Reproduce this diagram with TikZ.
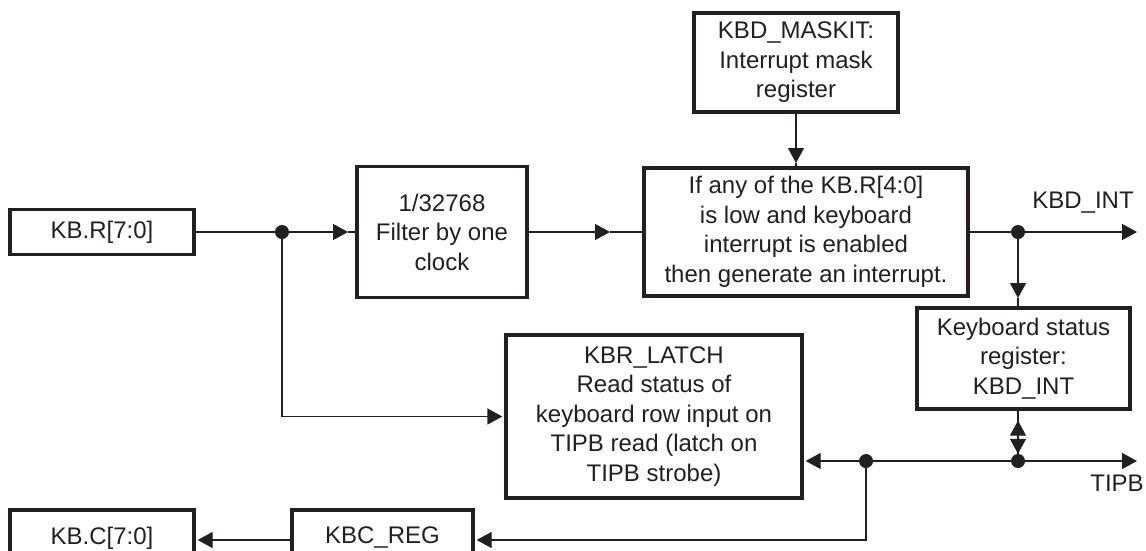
\documentclass[tikz,border=0pt]{standalone}
\usepackage{fontspec}
\setmainfont{Liberation Sans}
\usetikzlibrary{arrows.meta}
\definecolor{ink}{RGB}{35,31,32}
\begin{document}
\begin{tikzpicture}[x=1pt,y=-1pt,
  font=\fontsize{24}{29.5}\selectfont,
  box/.style={draw=ink, line width=3.3pt, align=center, inner sep=0pt, text=ink},
  conn/.style={draw=ink, line width=1.3pt},
  tip/.style={conn, -{Triangle[length=15pt,width=16pt]}},
  dot/.style={circle, fill=ink, inner sep=0pt, minimum size=14pt},
  lbl/.style={text=ink, inner sep=0pt}]
\useasboundingbox (0,0) rectangle (1146,550);
% boxes
\node[box, minimum width=184pt, minimum height=45pt] (kbr) at (102,232) {KB.R[7:0]};
\node[box, minimum width=170pt, minimum height=131pt] (filter) at (442,232) {1/32768\\Filter by one\\clock};
\node[box, minimum width=324pt, minimum height=128pt] (main) at (806,232) {If any of the KB.R[4:0]\\is low and keyboard\\interrupt is enabled\\then generate an interrupt.};
\node[box, minimum width=204pt, minimum height=99pt] (mask) at (796,62.5) {KBD\_MASKIT:\\Interrupt mask\\register};
\node[box, minimum width=213pt, minimum height=101pt] (status) at (1023.5,358.5) {Keyboard status\\register:\\KBD\_INT};
\node[box, minimum width=296pt, minimum height=163pt] (latch) at (654,416.5) {KBR\_LATCH\\Read status of\\keyboard row input on\\TIPB read (latch on\\TIPB strobe)};
\node[box, minimum width=181pt, minimum height=60pt] (kbc) at (382.5,540) {\raisebox{9pt}{KBC\_REG}};
\node[box, minimum width=184pt, minimum height=60pt] (kbcol) at (102,540) {\raisebox{9pt}{KB.C[7:0]}};
% junction dots
\node[dot] (d1) at (282,232) {};
\node[dot] (d2) at (1018,232) {};
\node[dot] (d3) at (1018,461) {};
\node[dot] (d4) at (866,461) {};
% coordinates
\coordinate (a1) at (348,232);
\coordinate (a2) at (610,232);
\coordinate (a3) at (796,163);
\coordinate (a4) at (1018,298);
\coordinate (kbdint) at (1137,232);
\coordinate (tipb) at (1137,461);
\coordinate (c1) at (866,540);
% labels
\node[lbl] (lint) at (1083,203) {KBD\_INT};
\node[lbl] (ltipb) at (1117,483) {TIPB};
% connectors
\draw[conn] (kbr.east) -- (d1);
\draw[tip] (d1) -- (a1);
\draw[conn] (a1) -- (filter.west);
\draw[tip] (filter.east) -- (a2);
\draw[conn] (a2) -- (main.west);
\draw[tip] (mask.south) -- (a3);
\draw[conn] (a3) -- (mask.south |- main.north);
\draw[conn] (main.east) -- (d2);
\draw[tip] (d2) -- (kbdint);
\draw[tip] (d2) -- (a4);
\draw[conn] (a4) -- (d2 |- status.north);
\draw[conn] (d2 |- status.south) -- (d3);
\draw[conn, {Triangle[length=15pt,width=16pt]}-{Triangle[length=15pt,width=16pt]}, shorten <=10pt] (d2 |- status.south) -- (d3);
\draw[tip] (d4) -- (tipb);
\draw[tip, shorten >=2pt] (d4) -- (latch.east |- d4);
\draw[tip, shorten >=2pt] (d4) -- (c1) -- (kbc.east |- c1);
\draw[tip, shorten >=2pt] (kbc.west |- c1) -- (kbcol.east |- c1);
\draw[tip, shorten >=2pt] (d1) -- (d1 |- latch.west) -- (latch.west);
\end{tikzpicture}
\end{document}
